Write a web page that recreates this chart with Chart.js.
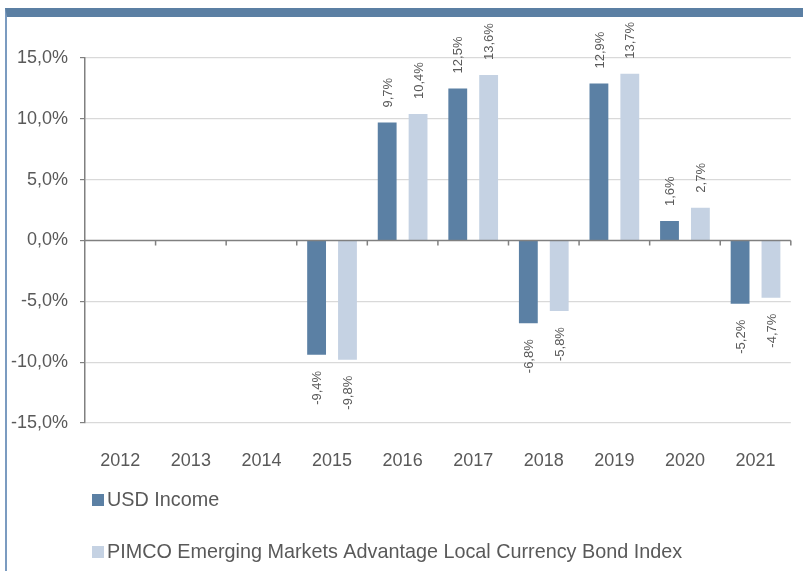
<!DOCTYPE html>
<html lang="en">
<head>
    <meta charset="UTF-8">
    <title>USD Income vs PIMCO EM Local Currency Bond Index</title>
    <script src="https://cdn.jsdelivr.net/npm/chart.js"></script>
    <style>
        body { margin: 0; background: #fff; }
        #frame {
            position: absolute; left: 5px; top: 8px; width: 798px; height: 563px;
            box-sizing: border-box;
            border-top: 9px solid #5b7fa3;
            border-left: 2px solid #7b9bc0;
        }
        #wrap { position: absolute; left: 0; top: 0; width: 803px; height: 571px; }
    </style>
</head>
<body>
    <div id="frame"></div>
    <div id="wrap"><canvas id="returnsChart" width="803" height="571"></canvas></div>
    <script>
        const years = ['2012', '2013', '2014', '2015', '2016', '2017', '2018', '2019', '2020', '2021'];
        const usdIncome = [null, null, null, -9.4, 9.7, 12.5, -6.8, 12.9, 1.6, -5.2];
        const pimcoIndex = [null, null, null, -9.8, 10.4, 13.6, -5.8, 13.7, 2.7, -4.7];
        const seriesNames = ['USD Income', 'PIMCO Emerging Markets Advantage Local Currency Bond Index'];

        const FONT = "'Liberation Sans', Arial, sans-serif";
        const TEXT = '#595959';

        function fmt(v) {
            return v.toFixed(1).replace('.', ',') + '%';
        }

        // rotated value labels above / below each bar
        const valueLabels = {
            id: 'valueLabels',
            afterDatasetsDraw(chart) {
                const ctx = chart.ctx;
                ctx.save();
                ctx.font = '13px ' + FONT;
                ctx.fillStyle = TEXT;
                ctx.textBaseline = 'middle';
                chart.data.datasets.forEach((ds, di) => {
                    chart.getDatasetMeta(di).data.forEach((bar, i) => {
                        const v = ds.data[i];
                        if (v === null) return;
                        ctx.save();
                        if (v >= 0) {
                            ctx.translate(bar.x, bar.y - 15);
                            ctx.textAlign = 'left';
                        } else {
                            ctx.translate(bar.x, bar.y + 16);
                            ctx.textAlign = 'right';
                        }
                        ctx.rotate(-Math.PI / 2);
                        ctx.fillText(fmt(v), 0, 1);
                        ctx.restore();
                    });
                });
                ctx.restore();
            }
        };

        // small tick marks on the zero line between categories
        const zeroTicks = {
            id: 'zeroTicks',
            afterDatasetsDraw(chart) {
                const ctx = chart.ctx;
                const xs = chart.scales.x;
                const y0 = chart.scales.y.getPixelForValue(0);
                const step = (xs.right - xs.left) / years.length;
                ctx.save();
                ctx.strokeStyle = '#808080';
                ctx.lineWidth = 1.5;
                ctx.beginPath();
                ctx.moveTo(xs.left, y0);
                ctx.lineTo(xs.right, y0);
                for (let i = 1; i <= years.length; i++) {
                    const x = xs.left + step * i;
                    ctx.moveTo(x, y0);
                    ctx.lineTo(x, y0 + 5);
                }
                ctx.stroke();
                ctx.restore();
            }
        };

        // vertical legend under the axis
        const stackedLegend = {
            id: 'stackedLegend',
            afterDraw(chart) {
                const ctx = chart.ctx;
                const rows = [500, 552];
                ctx.save();
                ctx.font = '19.8px ' + FONT;
                ctx.textBaseline = 'middle';
                ctx.textAlign = 'left';
                chart.data.datasets.forEach((ds, i) => {
                    ctx.fillStyle = ds.backgroundColor;
                    ctx.fillRect(92, rows[i] - 6, 12, 12);
                    ctx.fillStyle = TEXT;
                    ctx.fillText(ds.label, 107, rows[i] + 1);
                });
                ctx.restore();
            }
        };

        const data = {
            labels: years,
            datasets: [
                {
                    label: seriesNames[0],
                    data: usdIncome,
                    backgroundColor: 'rgb(91, 128, 164)',
                    categoryPercentage: 0.875,
                    barPercentage: 0.61
                },
                {
                    label: seriesNames[1],
                    data: pimcoIndex,
                    backgroundColor: 'rgb(197, 210, 227)',
                    categoryPercentage: 0.875,
                    barPercentage: 0.61
                }
            ]
        };

        const config = {
            type: 'bar',
            data: data,
            options: {
                responsive: false,
                animation: false,
                layout: { padding: { left: 0, top: 58, right: 9, bottom: 0 } },
                plugins: {
                    legend: { display: false },
                    tooltip: { enabled: false }
                },
                scales: {
                    x: {
                        grid: { display: false, drawTicks: false },
                        border: { display: false },
                        ticks: { color: TEXT, font: { family: FONT, size: 18 }, padding: 27, maxRotation: 0 },
                        afterFit(scale) { scale.height = 148; }
                    },
                    y: {
                        min: -15,
                        max: 15,
                        ticks: {
                            stepSize: 5,
                            color: TEXT,
                            font: { family: FONT, size: 18 },
                            padding: 12,
                            callback: (v) => fmt(v)
                        },
                        grid: {
                            color: (c) => c.tick && c.tick.value === 0 ? 'rgba(0,0,0,0)' : '#d9d9d9',
                            lineWidth: 1.2,
                            tickColor: '#808080',
                            tickLength: 5
                        },
                        border: { color: '#808080', width: 1.5 },
                        afterFit(scale) { scale.width = 85; }
                    }
                }
            },
            plugins: [zeroTicks, valueLabels, stackedLegend]
        };

        const chart = new Chart(document.getElementById('returnsChart'), config);
    </script>
</body>
</html>
